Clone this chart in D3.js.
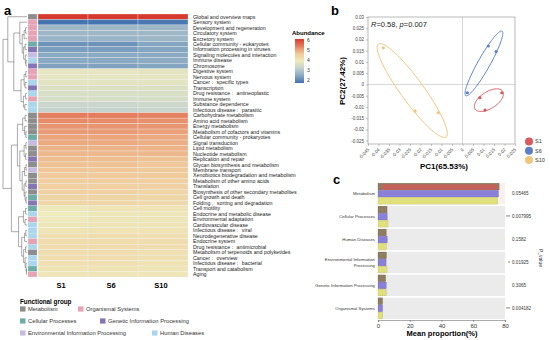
<!DOCTYPE html>
<html>
<head>
<meta charset="utf-8">
<script src="https://cdn.jsdelivr.net/npm/d3@7"></script>
<style>
  body { margin: 0; background: #fff; }
  svg { font-family: "Liberation Sans", Arial, sans-serif; }
</style>
</head>
<body>
<div id="content"></div>
<script>
// Figure: a) KEGG level-2 heatmap, b) PCA, c) level-1 mean proportions
var w = 550,
    h = 340;

// ---- data: heatmap ----
var samples = ["S1", "S6", "S10"];

var pathways = [
  "Global and overview maps", "Sensory system", "Development and regeneration", "Circulatory system",
  "Excretory system", "Cellular community - eukaryotes", "Information processing in viruses",
  "Signaling molecules and interaction", "Immune disease", "Chromosome", "Digestive system",
  "Nervous system", "Cancer\uff1a  specific types", "Transcription", "Drug resistance\uff1a  antineoplastic",
  "Immune system", "Substance dependence", "Infectious disease\uff1a  parasitic", "Carbohydrate metabolism",
  "Amino acid metabolism", "Energy metabolism", "Metabolism of cofactors and vitamins",
  "Cellular community - prokaryotes", "Signal transduction", "Lipid metabolism", "Nucleotide metabolism",
  "Replication and repair", "Glycan biosynthesis and metabolism", "Membrane transport",
  "Xenobiotics biodegradation and metabolism", "Metabolism of other amino acids", "Translation",
  "Biosynthesis of other secondary metabolites", "Cell growth and death", "Folding\uff0c  sorting and degradation",
  "Cell motility", "Endocrine and metabolic disease", "Environmental adaptation", "Cardiovascular disease",
  "Infectious disease\uff1a  viral", "Neurodegenerative disease", "Endocrine system",
  "Drug resistance\uff1a  antimicrobial", "Metabolism of terpenoids and polyketides", "Cancer\uff1a  overview",
  "Infectious disease\uff1a  bacterial", "Transport and catabolism", "Aging"
];

var M = "Metabolism", O = "Organismal Systems", C = "Cellular Processes",
    G = "Genetic Information Processing", E = "Environmental Information Processing", D = "Human Diseases";

var pathwayGroup = [
  M, O, O, O, O, C, G, E, D, G,
  O, O, D, G, D, O, D, D, M, M,
  M, M, C, E, M, M, G, M, E, M,
  M, G, M, C, G, C, D, O, D, D,
  D, O, D, M, D, D, C, O
];

var abundS1 = [
  6.1, 1.75, 2.7, 2.7, 2.65, 2.15, 2.3, 2.45, 2.45, 2.35,
  3.75, 3.75, 3.7, 3.6, 3.55, 3.5, 3.3, 3.2, 5.4, 5.25,
  5.15, 5.1, 5.0, 4.95, 4.85, 4.8, 4.75, 4.7, 4.65, 4.6,
  4.55, 4.5, 4.45, 4.4, 4.35, 3.95, 3.9, 3.95, 4.0, 4.05,
  4.15, 4.25, 4.25, 4.2, 4.2, 4.15, 4.1, 4.0
];
var abundS6 = [
  6.1, 1.75, 2.7, 2.7, 2.65, 2.15, 2.3, 2.45, 2.45, 2.35,
  3.75, 3.75, 3.7, 3.6, 3.55, 3.5, 3.3, 3.2, 5.4, 5.25,
  5.15, 5.1, 5.0, 4.95, 4.85, 4.8, 4.75, 4.7, 4.65, 4.6,
  4.55, 4.5, 4.45, 4.4, 4.35, 4.05, 4.0, 4.0, 4.05, 4.1,
  4.2, 4.25, 4.25, 4.2, 4.2, 4.15, 4.1, 4.0
];
var abundS10 = [
  6.1, 1.8, 2.7, 2.7, 2.7, 2.4, 2.4, 2.45, 2.5, 2.4,
  3.7, 3.75, 3.7, 3.6, 3.55, 3.5, 3.35, 3.25, 5.35, 5.2,
  5.15, 5.05, 4.95, 4.9, 4.85, 4.8, 4.7, 4.65, 4.6, 4.6,
  4.5, 4.45, 4.4, 4.35, 4.3, 4.05, 4.0, 4.0, 4.05, 4.1,
  4.15, 4.2, 4.2, 4.15, 4.15, 4.1, 4.05, 4.0
];

var colorTicks = [2, 3, 4, 5, 6];

// row dendrogram: [merge height, left, right], leaves are row indexes
var rowTree = [1.0,
  [0.8,
    0,
    [0.55,
      [0.3, 1, [0.2, [0.12, [0.06, 2, 3], 4], [0.14, [0.08, 5, 6], [0.07, 7, [0.04, 8, 9]]]]],
      [0.25, [0.12, [0.05, 10, 11], [0.08, 12, 13]], [0.15, [0.06, 14, 15], [0.09, 16, 17]]]
    ]
  ],
  [0.65,
    [0.4,
      [0.18, [0.08, 18, 19], [0.1, 20, [0.05, 21, 22]]],
      [0.3, [0.12, [0.05, 23, 24], [0.06, 25, 26]],
        [0.2, [0.1, [0.04, 27, 28], 29], [0.12, [0.05, 30, 31], [0.08, 32, [0.04, 33, 34]]]]]
    ],
    [0.35,
      [0.15, [0.06, 35, 36], [0.08, 37, 38]],
      [0.22, [0.1, [0.05, 39, 40], 41], [0.14, [0.06, 42, 43], [0.08, 44, [0.04, 45, [0.02, 46, 47]]]]]
    ]
  ]
];

var groupNames = [M, O, C, G, E, D];
var groupColors = ["#8d8d8d", "#e7a2b6", "#6aaea6", "#8574b6", "#c5bbe3", "#aad7ec"];

// ---- data: PCA ----
var pcaGroups = ["S1", "S6", "S10"];
var pc1S1 = [0.0083, 0.0107, 0.0187],  pc2S1 = [-0.0059, -0.0114, -0.0037];
var pc1S6 = [0.0023, 0.0123, 0.0160],  pc2S6 = [-0.0037, 0.0171, 0.0146];
var pc1S10 = [-0.0377, -0.0226, -0.0115], pc2S10 = [0.0163, -0.0118, -0.0126];
var pcaXTicks = [-0.045, -0.04, -0.035, -0.03, -0.025, -0.02, -0.015, -0.01, -0.005, 0, 0.005, 0.01, 0.015, 0.02, 0.025];
var pcaYTicks = [-0.025, -0.02, -0.015, -0.01, -0.005, 0, 0.005, 0.01, 0.015, 0.02, 0.025, 0.03];
var pcaColors = ["#d85a5e", "#5b80c6", "#efc77c"];

// ---- data: mean proportion bars ----
var funcGroups = [M, C, D, E, G, O];
var meanS1 = [76.3, 5.7, 5.2, 5.3, 4.8, 2.9];
var meanS6 = [75.9, 5.8, 5.8, 5.1, 5.2, 2.9];
var meanS10 = [75.4, 6.3, 5.2, 5.7, 5.2, 3.0];
var pValues = ["0.05465", "0.007995", "0.1582", "0.01925", "0.3065", "0.004182"];
var pStars = ["", "**", "", "*", "", "**"];
var barTicks = [0, 20, 40, 60, 80];
var barColors = ["#8e7d60", "#8a80d8", "#dfdf7c"];

var svg = d3.select("#content")
    .append("svg")
    .attr("width", w)
    .attr("height", h);

// ================= a: heatmap =================
var abund = [abundS1, abundS6, abundS10];

var hx = d3.scaleBand().domain(samples).range([38, 188]);
var hy = d3.scaleBand().domain(d3.range(pathways.length)).range([14, 277]);
var heatColor = d3.scaleLinear()
    .domain([1.7, 2.43, 3.17, 3.9, 4.63, 5.37, 6.1])
    .range(["#4170ae", "#88a8c2", "#c2d2cf", "#eeebbd", "#f0c99a", "#e5805f", "#d73a2c"]);
var groupColor = d3.scaleOrdinal().domain(groupNames).range(groupColors);

svg.append("text").attr("x", 4).attr("y", 15)
    .style("font-size", "13px").style("font-weight", "bold").text("a");

var cells = [];
samples.forEach(function(s, j) {
  pathways.forEach(function(p, i) {
    cells.push({sample: s, row: i, value: abund[j][i]});
  });
});

svg.append("g").selectAll("rect")
    .data(cells)
    .enter()
    .append("rect")
    .attr("x", function(d) { return hx(d.sample); })
    .attr("y", function(d) { return hy(d.row); })
    .attr("width", hx.bandwidth())
    .attr("height", hy.bandwidth())
    .attr("fill", function(d) { return heatColor(d.value); })
    .attr("stroke", "#f2f2f2")
    .attr("stroke-width", 0.3);

// annotation column
svg.append("g").selectAll("rect")
    .data(pathwayGroup)
    .enter()
    .append("rect")
    .attr("x", 28)
    .attr("y", function(d, i) { return hy(i); })
    .attr("width", 9)
    .attr("height", hy.bandwidth())
    .attr("fill", function(d) { return groupColor(d); })
    .attr("stroke", "#f2f2f2")
    .attr("stroke-width", 0.2);

// row labels
svg.append("g").selectAll("text")
    .data(pathways)
    .enter()
    .append("text")
    .attr("x", 193)
    .attr("y", function(d, i) { return hy(i) + hy.bandwidth() / 2; })
    .attr("dy", "0.35em")
    .style("font-size", "5.3px")
    .attr("fill", "#222")
    .text(function(d) { return d; });

// column labels
svg.append("g").selectAll("text")
    .data(samples)
    .enter()
    .append("text")
    .attr("x", function(d) { return hx(d) + hx.bandwidth() / 2 - 2; })
    .attr("y", 288)
    .attr("text-anchor", "middle")
    .style("font-size", "7.5px")
    .style("font-weight", "bold")
    .text(function(d) { return d; });

// dendrogram
var dx = d3.scaleLinear().domain([0, 1]).range([27, 3]);
var segs = [];
function walk(node) {
  if (typeof node === "number") return {y: hy(node) + hy.bandwidth() / 2, h: 0};
  var l = walk(node[1]), r = walk(node[2]);
  segs.push([dx(node[0]), l.y, dx(node[0]), r.y]);
  segs.push([dx(l.h), l.y, dx(node[0]), l.y]);
  segs.push([dx(r.h), r.y, dx(node[0]), r.y]);
  return {y: (l.y + r.y) / 2, h: node[0]};
}
walk(rowTree);
svg.append("g").selectAll("line")
    .data(segs)
    .enter()
    .append("line")
    .attr("x1", function(d) { return d[0]; })
    .attr("y1", function(d) { return d[1]; })
    .attr("x2", function(d) { return d[2]; })
    .attr("y2", function(d) { return d[3]; })
    .attr("stroke", "#555")
    .attr("stroke-width", 0.5);

// colour bar (stops top -> bottom)
var cb = d3.scaleLinear().domain([6.1, 1.7]).range([39, 83]);
var grad = svg.append("defs").append("linearGradient")
    .attr("id", "abund").attr("x1", 0).attr("y1", 0).attr("x2", 0).attr("y2", 1);
heatColor.domain().slice().reverse().forEach(function(v) {
  grad.append("stop")
      .attr("offset", (cb(v) - 39) / 44)
      .attr("stop-color", heatColor(v));
});
svg.append("rect").attr("x", 295).attr("y", 39).attr("width", 9).attr("height", 44)
    .attr("fill", "url(#abund)");
svg.append("text").attr("x", 292).attr("y", 35)
    .style("font-size", "6px").style("font-weight", "bold").text("Abundance");
svg.append("g").selectAll("text")
    .data(colorTicks)
    .enter()
    .append("text")
    .attr("x", 307)
    .attr("y", function(d) { return cb(d); })
    .attr("dy", "0.35em")
    .style("font-size", "5px")
    .attr("fill", "#333")
    .text(function(d) { return d; });

// functional group legend
svg.append("text").attr("x", 20).attr("y", 304)
    .style("font-size", "6.3px").style("font-weight", "bold").text("Functional group");
var legPos = [[20, 309], [78, 309], [20, 321], [100, 321], [20, 333], [152, 333]];
var legOrder = [M, O, C, G, E, D];
var leg = svg.append("g").selectAll("g")
    .data(legOrder)
    .enter()
    .append("g")
    .attr("transform", function(d, i) { return "translate(" + legPos[i][0] + "," + legPos[i][1] + ")"; });
leg.append("rect").attr("x", 0).attr("y", -2.6).attr("width", 5.5).attr("height", 5.2)
    .attr("fill", function(d) { return groupColor(d); });
leg.append("text").attr("x", 8).attr("dy", "0.35em")
    .style("font-size", "5.8px").attr("fill", "#333")
    .text(function(d) { return d; });

// ================= b: PCA =================
var px = d3.scaleLinear().domain([-0.045, 0.025]).range([368, 515]);
var py = d3.scaleLinear().domain([-0.0265, 0.03]).range([144, 17]);

svg.append("text").attr("x", 331).attr("y", 15)
    .style("font-size", "13px").style("font-weight", "bold").text("b");

svg.append("line").attr("x1", px(0)).attr("x2", px(0)).attr("y1", py.range()[0]).attr("y2", py.range()[1])
    .attr("stroke", "#ccc").attr("stroke-width", 0.8);
svg.append("line").attr("x1", px.range()[0]).attr("x2", px.range()[1]).attr("y1", py(0)).attr("y2", py(0))
    .attr("stroke", "#ccc").attr("stroke-width", 0.8);

var fmt = function(d) { return String(+d.toFixed(3)); };
var gx = svg.append("g").attr("transform", "translate(0,144)")
    .call(d3.axisBottom(px).tickValues(pcaXTicks).tickFormat(fmt).tickSize(2).tickPadding(1));
gx.selectAll("text")
    .attr("text-anchor", "end")
    .attr("transform", "translate(-2,3) rotate(-45)")
    .attr("dy", "0.3em");
var gy = svg.append("g").attr("transform", "translate(368,0)")
    .call(d3.axisLeft(py).tickValues(pcaYTicks).tickFormat(fmt).tickSize(2).tickPadding(2));
[gx, gy].forEach(function(g) {
  g.select(".domain").remove();
  g.selectAll("text").style("font-size", "4.5px").attr("fill", "#444")
      .style("font-family", "Liberation Sans, Arial, sans-serif");
  g.selectAll("line").attr("stroke", "#888").attr("stroke-width", 0.5);
});
svg.append("rect").attr("x", 368).attr("y", 17).attr("width", 147).attr("height", 127)
    .attr("fill", "none").attr("stroke", "#8a8a8a").attr("stroke-width", 0.6);

var pcaSets = [[pc1S1, pc2S1], [pc1S6, pc2S6], [pc1S10, pc2S10]];

// confidence ellipse from sample covariance
function ellipse(xs, ys, k) {
  var mx = d3.mean(xs), my = d3.mean(ys), n = xs.length;
  var sxx = d3.sum(xs, function(v) { return (v - mx) * (v - mx); }) / (n - 1);
  var syy = d3.sum(ys, function(v) { return (v - my) * (v - my); }) / (n - 1);
  var sxy = d3.sum(xs, function(v, i) { return (v - mx) * (ys[i] - my); }) / (n - 1);
  var tr = sxx + syy, det = sxx * syy - sxy * sxy;
  var l1 = tr / 2 + Math.sqrt(tr * tr / 4 - det), l2 = tr / 2 - Math.sqrt(tr * tr / 4 - det);
  var ang = Math.atan2(l1 - sxx, sxy);
  var pts = d3.range(0, 2 * Math.PI + 0.01, Math.PI / 60).map(function(t) {
    var a = k * Math.sqrt(l1) * Math.cos(t), b = k * Math.sqrt(Math.max(l2, 0)) * Math.sin(t);
    return [mx + a * Math.cos(ang) - b * Math.sin(ang), my + a * Math.sin(ang) + b * Math.cos(ang)];
  });
  return pts;
}

var line = d3.line().x(function(d) { return px(d[0]); }).y(function(d) { return py(d[1]); }).curve(d3.curveLinearClosed);
svg.append("g").selectAll("path")
    .data(pcaSets)
    .enter()
    .append("path")
    .attr("d", function(d) { return line(ellipse(d[0], d[1], 1.27)); })
    .attr("fill", "none")
    .attr("stroke", function(d, i) { return pcaColors[i]; })
    .attr("stroke-width", 1);

pcaSets.forEach(function(set, i) {
  svg.append("g").selectAll("circle")
      .data(set[0])
      .enter()
      .append("circle")
      .attr("cx", function(d) { return px(d); })
      .attr("cy", function(d, j) { return py(set[1][j]); })
      .attr("r", 1.6)
      .attr("fill", pcaColors[i]);
});

var stat = svg.append("text").attr("x", 371).attr("y", 27).style("font-size", "7.5px").attr("fill", "#222");
stat.append("tspan").style("font-style", "italic").text("R");
stat.append("tspan").text("=0.58, ");
stat.append("tspan").style("font-style", "italic").text("p");
stat.append("tspan").text("=0.007");

svg.append("text").attr("transform", "translate(345,81) rotate(-90)")
    .attr("text-anchor", "middle").style("font-size", "8px").style("font-weight", "bold")
    .text("PC2(27.42%)");
svg.append("text").attr("x", 444).attr("y", 169)
    .attr("text-anchor", "middle").style("font-size", "8px").style("font-weight", "bold")
    .text("PC1(65.53%)");

var pleg = svg.append("g").selectAll("g")
    .data(pcaGroups)
    .enter()
    .append("g")
    .attr("transform", function(d, i) { return "translate(529," + (141.5 + i * 9.2) + ")"; });
pleg.append("circle").attr("r", 4).attr("fill", function(d, i) { return pcaColors[i]; });
pleg.append("text").attr("x", 6).attr("dy", "0.35em").style("font-size", "5.5px").attr("fill", "#333")
    .text(function(d) { return d; });

// ================= c: bars =================
var bx = d3.scaleLinear().domain([0, 80]).range([378, 505]);
var by = d3.scaleBand().domain(funcGroups).range([183, 319]).paddingInner(0.07);
var sub = d3.scaleBand().domain(samples).range([0, by.bandwidth()]).paddingInner(0.04).paddingOuter(0.03);
var means = [meanS1, meanS6, meanS10];

svg.append("text").attr("x", 333).attr("y", 184)
    .style("font-size", "13px").style("font-weight", "bold").text("c");

svg.append("g").selectAll("rect")
    .data(funcGroups)
    .enter()
    .append("rect")
    .attr("x", bx(0))
    .attr("y", function(d) { return by(d); })
    .attr("width", bx(80) - bx(0))
    .attr("height", by.bandwidth())
    .attr("fill", function(d, i) { return i === 0 ? "#fbf0f0" : "#ebebeb"; });

var bars = [];
funcGroups.forEach(function(g, i) {
  samples.forEach(function(s, j) {
    bars.push({group: g, sample: s, j: j, value: means[j][i]});
  });
});
svg.append("g").selectAll("rect")
    .data(bars)
    .enter()
    .append("rect")
    .attr("x", bx(0))
    .attr("y", function(d) { return by(d.group) + sub(d.sample); })
    .attr("width", function(d) { return bx(d.value) - bx(0); })
    .attr("height", sub.bandwidth())
    .attr("fill", function(d) { return barColors[d.j]; })
    .attr("stroke", function(d) { return d3.color(barColors[d.j]).darker(0.6); })
    .attr("stroke-width", 0.3);

// red highlight inside the top S1 bar
svg.append("rect")
    .attr("x", bx(2.5))
    .attr("y", by(funcGroups[0]) + sub("S1") + 1.2)
    .attr("width", bx(meanS1[0]) - bx(2.5) - 2)
    .attr("height", sub.bandwidth() - 1.4)
    .attr("fill", "#c6605c");

svg.append("g").selectAll("text")
    .data(funcGroups)
    .enter()
    .append("text")
    .attr("x", 375)
    .attr("y", function(d) { return by(d) + by.bandwidth() / 2; })
    .attr("text-anchor", "end")
    .style("font-size", "4.3px")
    .attr("fill", "#333")
    .each(function(d) {
      var t = d3.select(this);
      if (d === E) {
        t.append("tspan").attr("x", 375).attr("dy", "-0.25em").text("Environmental Information");
        t.append("tspan").attr("x", 375).attr("dy", "1.25em").text("Processing");
      } else {
        t.attr("dy", "0.35em").text(d);
      }
    });

svg.append("g").selectAll("text")
    .data(pValues)
    .enter()
    .append("text")
    .attr("x", 512)
    .attr("y", function(d, i) { return by(funcGroups[i]) + by.bandwidth() / 2; })
    .attr("dy", "0.35em")
    .style("font-size", "4.6px")
    .attr("fill", "#333")
    .text(function(d) { return d; });
svg.append("g").selectAll("text")
    .data(pStars)
    .enter()
    .append("text")
    .attr("x", 510)
    .attr("y", function(d, i) { return by(funcGroups[i]) + by.bandwidth() / 2; })
    .attr("dy", "0.5em")
    .attr("text-anchor", "end")
    .style("font-size", "5px")
    .attr("fill", "#555")
    .text(function(d) { return d; });
svg.append("text").attr("transform", "translate(539,258) rotate(90)")
    .attr("text-anchor", "middle").style("font-size", "5px").attr("fill", "#333").text("P_value");

var gb = svg.append("g").attr("transform", "translate(0,320)")
    .call(d3.axisBottom(bx).tickValues(barTicks).tickSize(2).tickPadding(1.5));
gb.select(".domain").attr("stroke", "#555").attr("stroke-width", 0.5);
gb.selectAll("line").attr("stroke", "#555").attr("stroke-width", 0.5);
gb.selectAll("text").style("font-size", "6px").attr("fill", "#333")
    .style("font-family", "Liberation Sans, Arial, sans-serif");
svg.append("text").attr("x", 442).attr("y", 336)
    .attr("text-anchor", "middle").style("font-size", "7.5px").style("font-weight", "bold")
    .text("Mean proportion(%)");
</script>
</body>
</html>
